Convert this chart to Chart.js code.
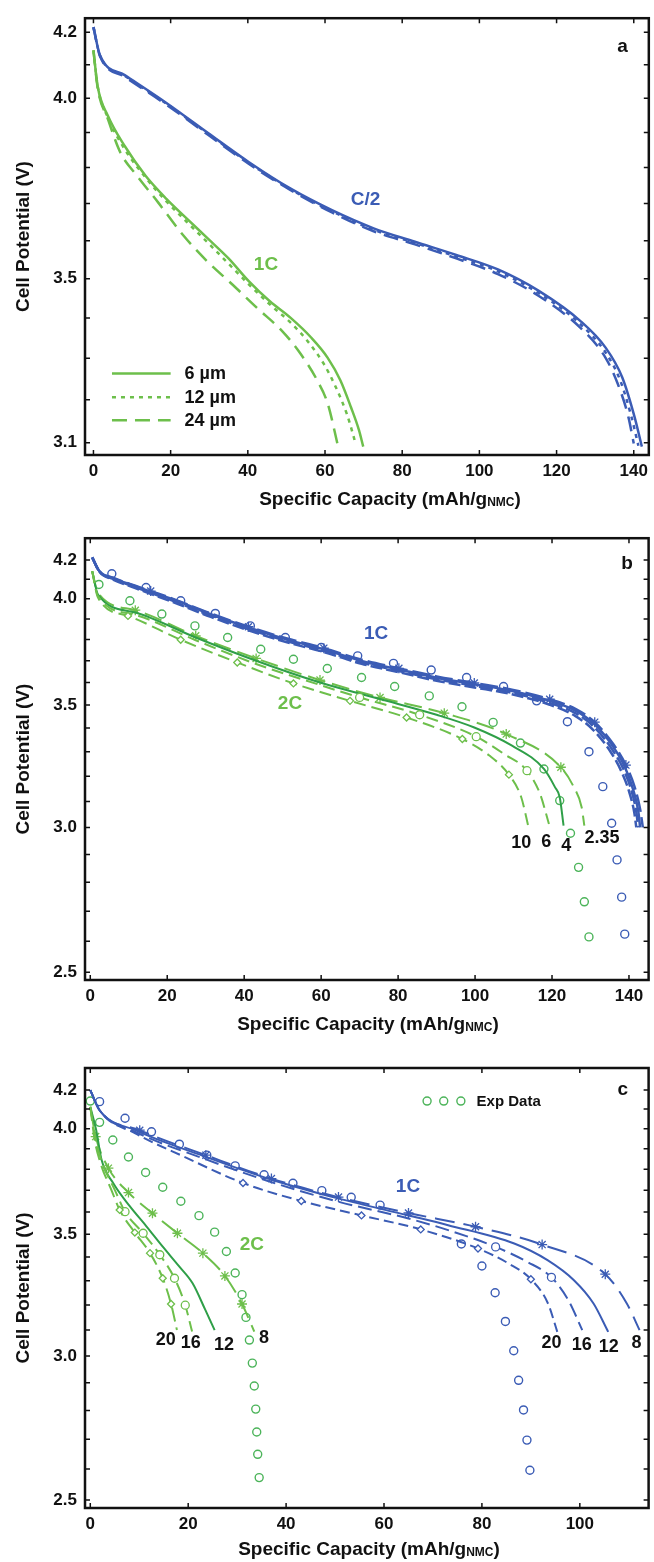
<!DOCTYPE html>
<html>
<head>
<meta charset="utf-8">
<script src="https://cdn.jsdelivr.net/npm/chart.js@4.4.1/dist/chart.umd.min.js"></script>
<style>
  html, body { margin: 0; padding: 0; background: #fff; }
  #wrap { position: relative; width: 654px; height: 1562px; }
  canvas { position: absolute; left: 0; }
</style>
</head>
<body>
<div id="wrap">
  <canvas id="chartA" width="654" height="520" style="top:0px"></canvas>
  <canvas id="chartB" width="654" height="520" style="top:520px"></canvas>
  <canvas id="chartC" width="654" height="522" style="top:1040px"></canvas>
</div>
<script>
// ---------- data (capacity mAh/g, potential V) ----------
const capTicksAB = [0, 20, 40, 60, 80, 100, 120, 140];
const capTicksC = [0, 20, 40, 60, 80, 100];
const vTicksA = [4.2, 4.1, 4.0, 3.9, 3.8, 3.7, 3.6, 3.5, 3.4, 3.3, 3.2, 3.1];
const vLabelsA = [4.2, 4.0, 3.5, 3.1];
const vTicksBC = [4.2, 4.1, 4.0, 3.9, 3.8, 3.7, 3.6, 3.5, 3.4, 3.3, 3.2, 3.1, 3.0, 2.9, 2.8, 2.7, 2.6, 2.5];
const vLabelsBC = [4.2, 4.0, 3.5, 3.0, 2.5];

// panel a : C/2 and 1C, three separator thicknesses
const aC2_6um = [[0,4.216],[1.7,4.129],[8.1,4.069],[18.9,3.986],[29.6,3.899],[40.3,3.815],[51.1,3.741],[61.8,3.682],[72.6,3.633],[83.3,3.597],[94.0,3.562],[104.8,3.524],[115.5,3.468],[126.2,3.392],[132.7,3.326],[137.0,3.254],[140.2,3.160],[142.1,3.091]];
const aC2_12um = [[0,4.216],[1.7,4.128],[8.1,4.067],[18.9,3.984],[29.6,3.897],[40.3,3.813],[51.1,3.739],[61.8,3.679],[72.6,3.629],[83.3,3.594],[94.0,3.558],[104.8,3.519],[115.5,3.462],[126.2,3.384],[132.7,3.314],[136.5,3.246],[139.4,3.160],[141.2,3.093]];
const aC2_24um = [[0,4.216],[1.7,4.126],[8.1,4.064],[18.9,3.981],[29.6,3.894],[40.3,3.810],[51.1,3.737],[61.8,3.676],[72.6,3.625],[83.3,3.590],[94.0,3.553],[104.8,3.512],[115.5,3.455],[126.2,3.375],[132.7,3.301],[135.9,3.237],[138.6,3.160],[140.0,3.098]];
const a1C_6um = [[0,4.144],[1.1,4.035],[3.8,3.947],[8.1,3.861],[13.5,3.777],[18.9,3.713],[24.2,3.659],[29.6,3.606],[35.0,3.553],[40.3,3.493],[45.7,3.442],[51.1,3.400],[56.4,3.351],[60.7,3.301],[64.0,3.246],[66.7,3.183],[68.8,3.129],[69.9,3.091]];
const a1C_12um = [[0,4.144],[1.1,4.035],[3.8,3.942],[8.1,3.852],[13.5,3.772],[18.9,3.706],[24.2,3.650],[29.6,3.595],[35.0,3.539],[40.3,3.485],[45.7,3.434],[51.1,3.388],[55.4,3.343],[59.7,3.286],[62.9,3.228],[65.6,3.168],[67.2,3.121],[68.0,3.095]];
const a1C_24um = [[0,4.144],[1.1,4.030],[3.8,3.937],[7.0,3.842],[11.3,3.777],[16.7,3.704],[23.2,3.615],[29.6,3.544],[36.0,3.485],[42.4,3.425],[48.9,3.367],[53.2,3.317],[58.0,3.246],[60.7,3.191],[63.4,3.091]];

// panel b : 1C and 2C, separator tortuosity 2.35 / 4 / 6 / 10
const b1C_exp = [[5.6,4.128],[14.5,4.057],[23.5,3.990],[32.5,3.927],[41.6,3.866],[50.7,3.810],[60.0,3.762],[69.5,3.723],[78.8,3.688],[88.6,3.657],[97.8,3.623],[107.4,3.582],[116.0,3.518],[124.0,3.427],[129.6,3.300],[133.2,3.158],[135.5,3.016],[136.9,2.880],[138.1,2.748],[138.9,2.623]];
const b2C_exp = [[2.25,4.073],[10.3,3.990],[18.6,3.924],[27.2,3.866],[35.7,3.810],[44.3,3.754],[52.8,3.707],[61.6,3.664],[70.5,3.623],[79.1,3.582],[88.1,3.540],[96.6,3.492],[104.7,3.424],[111.8,3.336],[117.9,3.229],[122.0,3.103],[124.8,2.978],[126.9,2.853],[128.4,2.732],[129.6,2.614]];
const b1C_235 = [[0.5,4.214],[2.4,4.141],[5.9,4.108],[11.7,4.066],[15.7,4.039],[21.5,4.000],[31.3,3.927],[41.1,3.862],[50.9,3.806],[60.7,3.759],[70.5,3.705],[80.2,3.665],[90.0,3.628],[99.8,3.598],[109.6,3.568],[119.4,3.525],[126.2,3.482],[131.1,3.425],[136.0,3.330],[139.2,3.245],[141.4,3.160],[142.9,3.070],[143.6,3.000]];
const b1C_4 = [[0.5,4.214],[2.4,4.141],[5.9,4.106],[11.7,4.064],[15.7,4.036],[21.5,3.997],[31.3,3.923],[41.1,3.858],[50.9,3.801],[60.7,3.754],[70.5,3.699],[80.2,3.660],[90.0,3.622],[99.8,3.592],[109.6,3.562],[119.4,3.518],[126.2,3.474],[131.1,3.415],[136.0,3.318],[138.9,3.238],[140.9,3.155],[142.4,3.064],[142.9,3.000]];
const b1C_6 = [[0.5,4.214],[2.4,4.139],[5.9,4.102],[11.7,4.059],[15.7,4.030],[21.5,3.990],[31.3,3.916],[41.1,3.851],[50.9,3.794],[60.7,3.747],[70.5,3.692],[80.2,3.653],[90.0,3.615],[99.8,3.585],[109.6,3.554],[119.4,3.509],[126.2,3.463],[131.1,3.402],[135.6,3.310],[138.5,3.230],[140.5,3.150],[141.9,3.060],[142.4,3.000]];
const b1C_10 = [[0.5,4.214],[2.4,4.137],[5.9,4.098],[11.7,4.054],[15.7,4.025],[21.5,3.984],[31.3,3.910],[41.1,3.845],[50.9,3.788],[60.7,3.741],[70.5,3.686],[80.2,3.647],[90.0,3.608],[99.8,3.578],[109.6,3.547],[119.4,3.501],[126.0,3.452],[130.8,3.390],[135.2,3.300],[138.0,3.220],[140.0,3.140],[141.4,3.055],[141.9,3.000]];
const b2C_235 = [[0.5,4.141],[2.0,4.031],[11.7,3.943],[27.4,3.818],[43.1,3.711],[59.7,3.611],[75.3,3.533],[92.0,3.464],[108.1,3.374],[122.3,3.236],[125.7,3.155],[127.7,3.077],[128.4,3.007]];
const b2C_4 = [[0.5,4.141],[2.0,4.022],[11.7,3.932],[27.4,3.810],[43.1,3.700],[59.7,3.600],[75.3,3.526],[90.0,3.457],[99.8,3.402],[109.6,3.325],[117.9,3.229],[120.8,3.155],[122.0,3.116],[123.0,3.007]];
const b2C_6 = [[0.5,4.141],[2.0,4.014],[11.7,3.920],[27.4,3.797],[43.1,3.685],[59.7,3.589],[70.0,3.533],[85.6,3.457],[100.3,3.363],[107.6,3.290],[113.5,3.222],[116.9,3.129],[119.2,3.013]];
const b2C_10 = [[0.5,4.141],[2.0,4.006],[9.8,3.915],[23.5,3.799],[38.2,3.692],[52.8,3.596],[67.5,3.518],[82.2,3.445],[96.7,3.353],[103.7,3.284],[108.8,3.206],[112.0,3.116],[114.0,2.994]];

// panel c : 1C and 2C, electrode-side thickness 8 / 12 / 16 / 20
const c1C_exp = [[1.9,4.139],[7.1,4.053],[12.5,3.984],[18.2,3.922],[23.8,3.868],[29.6,3.816],[35.5,3.773],[41.4,3.733],[47.3,3.698],[53.3,3.667],[59.2,3.631],[75.8,3.457],[80.0,3.362],[82.7,3.250],[84.8,3.134],[86.5,3.020],[87.5,2.909],[88.5,2.802],[89.2,2.697],[89.8,2.596]];
const c2C_exp = [[0,4.142],[1.9,4.032],[4.6,3.943],[7.8,3.859],[11.3,3.784],[14.8,3.714],[18.5,3.649],[22.2,3.583],[25.4,3.509],[27.8,3.424],[29.6,3.332],[31.0,3.242],[31.8,3.150],[32.5,3.061],[33.1,2.973],[33.5,2.888],[33.8,2.805],[34.0,2.725],[34.2,2.649],[34.5,2.572]];
const c1C_8 = [[0,4.200],[1.9,4.094],[10.1,3.992],[23.6,3.868],[37.0,3.755],[50.7,3.668],[65.0,3.595],[78.7,3.533],[92.3,3.454],[105.2,3.327],[109.6,3.206],[112.2,3.100]];
const c1C_12 = [[0,4.200],[1.9,4.094],[9.2,3.992],[23.1,3.864],[36.9,3.751],[50.8,3.661],[65.0,3.584],[73.1,3.540],[86.6,3.459],[93.4,3.387],[98.8,3.302],[102.8,3.206],[105.8,3.093]];
const c1C_16 = [[0,4.200],[1.9,4.094],[9.2,3.984],[23.1,3.852],[36.9,3.739],[50.8,3.646],[65.0,3.570],[73.1,3.518],[82.8,3.444],[89.2,3.380],[94.2,3.314],[97.7,3.218],[100.5,3.100]];
const c1C_20 = [[0,4.200],[1.9,4.094],[9.2,3.976],[19.2,3.860],[31.2,3.734],[43.1,3.650],[55.4,3.584],[67.5,3.521],[79.2,3.437],[85.4,3.373],[90.0,3.306],[93.5,3.206],[95.4,3.093]];
const c2C_8 = [[0,4.112],[1.1,3.960],[3.7,3.805],[7.8,3.689],[12.7,3.594],[17.8,3.504],[23.0,3.417],[27.5,3.320],[31.0,3.204],[33.5,3.094]];
const c2C_12 = [[0,4.112],[1.2,3.993],[2.3,3.845],[4.7,3.733],[8.1,3.625],[11.5,3.534],[14.8,3.445],[18.2,3.359],[20.9,3.289],[23.5,3.180],[25.4,3.100]];
const c2C_16 = [[0,4.112],[1.1,3.943],[2.5,3.828],[5.0,3.702],[7.1,3.601],[10.8,3.504],[14.2,3.410],[17.2,3.310],[19.4,3.199],[20.8,3.094]];
const c2C_20 = [[0,4.112],[0.9,3.943],[2.1,3.828],[4.3,3.702],[6.0,3.609],[9.1,3.507],[12.2,3.417],[14.8,3.310],[16.5,3.204],[17.7,3.100]];

// ---------- styling ----------
const FONT = '"Liberation Sans", Arial, Helvetica, sans-serif';
const INK = '#111';
const BLUE = '#3b5cb5';
const GREEN = '#6dbf4b';
const DKGREEN = '#2f9f48';
const EXPGREEN = '#4cb45a';

function pts(arr) { return arr.map(([x, y]) => ({ x, y })); }

function curve(label, data, color, opt) {
  opt = opt || {};
  const marks = opt.marks || [];
  return {
    label, data: pts(data), showLine: true,
    borderColor: color, borderWidth: opt.width || 2, borderDash: opt.dash || [],
    cubicInterpolationMode: 'monotone',
    pointStyle: opt.style || 'circle',
    pointRadius: c => marks.includes(c.dataIndex) ? (opt.r || 4) : 0,
    pointBorderColor: color, pointBackgroundColor: '#fff', pointBorderWidth: 1.3
  };
}

function expDots(label, data, color) {
  return {
    label, data: pts(data), showLine: false,
    pointStyle: 'circle', pointRadius: 4,
    pointBorderColor: color, pointBackgroundColor: 'rgba(255,255,255,0)', pointBorderWidth: 1.4
  };
}

// frame, inward ticks, in-plot texts, legends and the x title with subscript
const framePlugin = {
  id: 'frame',
  afterDatasetsDraw(chart, args, o) {
    const { ctx, chartArea: A, scales: { x, y } } = chart;
    ctx.save();
    ctx.strokeStyle = INK;
    ctx.lineWidth = 1.5;
    ctx.beginPath();
    x.ticks.forEach(t => {
      const p = x.getPixelForValue(t.value);
      ctx.moveTo(p, A.bottom); ctx.lineTo(p, A.bottom - 5);
      ctx.moveTo(p, A.top); ctx.lineTo(p, A.top + 5);
    });
    y.ticks.forEach(t => {
      const p = y.getPixelForValue(t.value);
      ctx.moveTo(A.left, p); ctx.lineTo(A.left + 5, p);
      ctx.moveTo(A.right, p); ctx.lineTo(A.right - 5, p);
    });
    ctx.stroke();
    ctx.lineWidth = 2.5;
    ctx.strokeRect(A.left, A.top, A.right - A.left, A.bottom - A.top);

    ctx.textAlign = 'center';
    ctx.textBaseline = 'middle';
    (o.notes || []).forEach(n => {
      ctx.font = 'bold ' + (n.size || 18) + 'px ' + FONT;
      ctx.fillStyle = n.color || INK;
      ctx.fillText(n.text, x.getPixelForValue(n.x), y.getPixelForValue(n.y));
    });

    if (o.lineLegend) {
      const L = o.lineLegend;
      L.rows.forEach(r => {
        const ds = chart.data.datasets[r.ds];
        const py = y.getPixelForValue(r.y);
        ctx.strokeStyle = ds.borderColor;
        ctx.lineWidth = ds.borderWidth;
        ctx.setLineDash(ds.borderDash || []);
        ctx.beginPath();
        ctx.moveTo(x.getPixelForValue(L.x0), py);
        ctx.lineTo(x.getPixelForValue(L.x1), py);
        ctx.stroke();
        ctx.setLineDash([]);
        ctx.font = 'bold 18px ' + FONT;
        ctx.fillStyle = INK;
        ctx.textAlign = 'left';
        ctx.fillText(ds.label, x.getPixelForValue(L.xt), py + 1);
      });
    }

    if (o.dotLegend) {
      const D = o.dotLegend;
      const py = y.getPixelForValue(D.y);
      ctx.strokeStyle = D.color;
      ctx.lineWidth = 1.4;
      D.xs.forEach(v => {
        ctx.beginPath();
        ctx.arc(x.getPixelForValue(v), py, 4, 0, Math.PI * 2);
        ctx.stroke();
      });
      ctx.font = 'bold 15px ' + FONT;
      ctx.fillStyle = INK;
      ctx.textAlign = 'left';
      ctx.fillText(D.text, x.getPixelForValue(D.xt), py + 1);
    }

    // x-axis title: Specific Capacity (mAh/gNMC)
    const big = 'bold 19px ' + FONT, small = 'bold 12px ' + FONT;
    const p1 = 'Specific Capacity (mAh/g', p2 = 'NMC', p3 = ')';
    ctx.font = big;
    const w1 = ctx.measureText(p1).width, w3 = ctx.measureText(p3).width;
    ctx.font = small;
    const w2 = ctx.measureText(p2).width;
    let sx = o.titleX - (w1 + w2 + w3) / 2;
    const base = A.bottom + o.titleDy + 7;
    ctx.textAlign = 'left';
    ctx.textBaseline = 'alphabetic';
    ctx.fillStyle = INK;
    ctx.font = big; ctx.fillText(p1, sx, base); sx += w1;
    ctx.font = small; ctx.fillText(p2, sx, base + 1); sx += w2;
    ctx.font = big; ctx.fillText(p3, sx, base);
    ctx.restore();
  }
};

function panel(id, cfg) {
  const tickFont = { family: FONT, size: 17, weight: 'bold' };
  return new Chart(document.getElementById(id), {
    type: 'scatter',
    data: { datasets: cfg.datasets },
    options: {
      responsive: false,
      animation: false,
      events: [],
      devicePixelRatio: 1,
      layout: { padding: cfg.pad },
      plugins: { legend: { display: false }, tooltip: { enabled: false }, frame: cfg.frame },
      scales: {
        x: {
          type: 'linear', min: cfg.xMin, max: cfg.xMax,
          afterFit: s => { s.height = 50; },
          afterBuildTicks: s => { s.ticks = cfg.xTicks.map(v => ({ value: v })); },
          ticks: { autoSkip: false, maxRotation: 0, padding: 6, color: INK, font: tickFont, callback: v => String(v) },
          grid: { display: false, drawTicks: false },
          border: { display: false }
        },
        y: {
          type: 'logarithmic', min: cfg.yMin, max: cfg.yMax,
          afterFit: s => { s.width = 85; },
          afterBuildTicks: s => { s.ticks = cfg.yTicks.map(v => ({ value: v })); },
          ticks: {
            autoSkip: false, padding: 8, color: INK, font: tickFont,
            callback: v => cfg.yLabels.some(l => Math.abs(l - v) < 1e-6) ? Number(v).toFixed(1) : ''
          },
          grid: { display: false, drawTicks: false },
          border: { display: false },
          title: {
            display: true, text: 'Cell Potential (V)', color: INK,
            font: { family: FONT, size: 19, weight: 'bold' }, padding: { top: 12, bottom: 0 }
          }
        }
      }
    },
    plugins: [framePlugin]
  });
}

// ---------- panel a ----------
panel('chartA', {
  xMin: -2.19, xMax: 143.9, yMin: 3.072, yMax: 4.244,
  xTicks: capTicksAB, yTicks: vTicksA, yLabels: vLabelsA,
  pad: { left: 0, right: 2, top: 14, bottom: 15 },
  datasets: [
    curve('C/2 6 µm', aC2_6um, BLUE, { width: 2.5 }),
    curve('C/2 12 µm', aC2_12um, BLUE, { width: 2.5, dash: [4, 5] }),
    curve('C/2 24 µm', aC2_24um, BLUE, { width: 2.5, dash: [15, 8] }),
    curve('6 µm', a1C_6um, GREEN, { width: 2.5 }),
    curve('12 µm', a1C_12um, GREEN, { width: 2.5, dash: [4, 5] }),
    curve('24 µm', a1C_24um, GREEN, { width: 2.5, dash: [15, 8] })
  ],
  frame: {
    titleX: 390, titleDy: 43,
    notes: [
      { text: 'C/2', x: 70.5, y: 3.710, color: BLUE, size: 19 },
      { text: '1C', x: 44.7, y: 3.537, color: GREEN, size: 19 },
      { text: 'a', x: 137.1, y: 4.155, color: INK, size: 19 }
    ],
    lineLegend: {
      x0: 4.8, x1: 20.0, xt: 23.6,
      rows: [{ ds: 3, y: 3.263 }, { ds: 4, y: 3.206 }, { ds: 5, y: 3.152 }]
    }
  }
});

// ---------- panel b ----------
panel('chartB', {
  xMin: -1.37, xMax: 145.1, yMin: 2.476, yMax: 4.317,
  xTicks: capTicksAB, yTicks: vTicksBC, yLabels: vLabelsBC,
  pad: { left: 0, right: 2, top: 17, bottom: 10 },
  datasets: [
    curve('1C 10', b1C_10, BLUE, { width: 2.5, dash: [12, 4] }),
    curve('1C 6', b1C_6, BLUE, { width: 2.5, dash: [14, 4] }),
    curve('1C 4', b1C_4, BLUE, { width: 2.5 }),
    curve('1C 2.35', b1C_235, BLUE, { width: 2.5, dash: [18, 5], style: 'star', marks: [4, 7, 9, 11, 13, 15, 17, 19], r: 5 }),
    curve('2C 10', b2C_10, GREEN, { width: 2, dash: [12, 6], style: 'rectRot', marks: [2, 3, 4, 5, 6, 7, 8, 10], r: 3.5 }),
    curve('2C 6', b2C_6, GREEN, { width: 2, dash: [12, 6], style: 'circle', marks: [6, 7, 8, 10] }),
    curve('2C 4', b2C_4, DKGREEN, { width: 2 }),
    curve('2C 2.35', b2C_235, GREEN, { width: 2, dash: [18, 7], style: 'star', marks: [2, 3, 4, 5, 6, 7, 8, 9], r: 5 }),
    expDots('1C exp', b1C_exp, BLUE),
    expDots('2C exp', b2C_exp, EXPGREEN)
  ],
  frame: {
    titleX: 368, titleDy: 43,
    notes: [
      { text: '1C', x: 74.3, y: 3.827, color: BLUE, size: 19 },
      { text: '2C', x: 51.9, y: 3.505, color: GREEN, size: 19 },
      { text: '10', x: 112.0, y: 2.940 },
      { text: '6', x: 118.5, y: 2.947 },
      { text: '4', x: 123.7, y: 2.932 },
      { text: '2.35', x: 133.0, y: 2.962 },
      { text: 'b', x: 139.5, y: 4.178, size: 19 }
    ]
  }
});

// ---------- panel c ----------
panel('chartC', {
  xMin: -1.08, xMax: 114.05, yMin: 2.475, yMax: 4.319,
  xTicks: capTicksC, yTicks: vTicksBC, yLabels: vLabelsBC,
  pad: { left: 0, right: 2, top: 28, bottom: 4 },
  datasets: [
    curve('1C 20', c1C_20, BLUE, { width: 2, dash: [10, 5], style: 'rectRot', marks: [4, 5, 6, 7, 8, 10], r: 3.5 }),
    curve('1C 16', c1C_16, BLUE, { width: 2, dash: [14, 6], style: 'circle', marks: [8, 10] }),
    curve('1C 12', c1C_12, BLUE, { width: 2 }),
    curve('1C 8', c1C_8, BLUE, { width: 2, dash: [20, 9], style: 'star', marks: [2, 3, 4, 5, 6, 7, 8, 9], r: 5 }),
    curve('2C 20', c2C_20, GREEN, { width: 2, dash: [14, 6], style: 'rectRot', marks: [4, 5, 6, 7, 8], r: 3.5 }),
    curve('2C 16', c2C_16, GREEN, { width: 2, dash: [14, 6], style: 'circle', marks: [4, 5, 6, 7, 8] }),
    curve('2C 12', c2C_12, DKGREEN, { width: 2 }),
    curve('2C 8', c2C_8, GREEN, { width: 2, dash: [20, 8], style: 'star', marks: [1, 2, 3, 4, 5, 6, 7, 8], r: 5 }),
    expDots('1C exp', c1C_exp, BLUE),
    expDots('2C exp', c2C_exp, EXPGREEN)
  ],
  frame: {
    titleX: 369, titleDy: 40,
    notes: [
      { text: '1C', x: 64.9, y: 3.714, color: BLUE, size: 19 },
      { text: '2C', x: 33.0, y: 3.452, color: GREEN, size: 19 },
      { text: '20', x: 15.4, y: 3.061 },
      { text: '16', x: 20.5, y: 3.049 },
      { text: '12', x: 27.3, y: 3.042 },
      { text: '8', x: 35.5, y: 3.069 },
      { text: '20', x: 94.2, y: 3.049 },
      { text: '16', x: 100.4, y: 3.042 },
      { text: '12', x: 105.9, y: 3.034 },
      { text: '8', x: 111.6, y: 3.049 },
      { text: 'c', x: 108.8, y: 4.200, size: 19 }
    ],
    dotLegend: { xs: [68.8, 72.2, 75.7], y: 4.142, xt: 78.9, text: 'Exp Data', color: EXPGREEN }
  }
});
</script>
</body>
</html>
